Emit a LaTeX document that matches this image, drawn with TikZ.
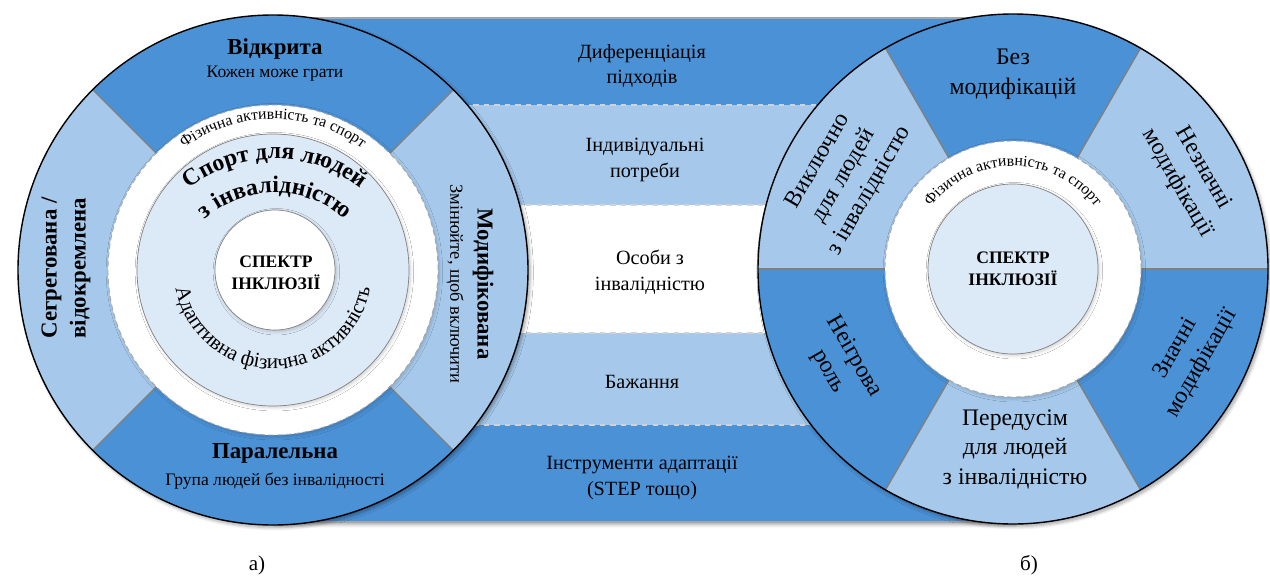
\documentclass[tikz,border=0pt]{standalone}
\usepackage{fontspec}
\setmainfont{Liberation Serif}
\usetikzlibrary{decorations.text,shadows.blur}
\definecolor{darkband}{RGB}{75,145,214}
\definecolor{lightband}{RGB}{166,201,235}
\definecolor{paleblue}{RGB}{220,233,246}

\begin{document}
\begin{tikzpicture}[x=0.02cm, y=0.02cm,
    title/.style ={font=\bfseries\fontsize{13}{16.4}\selectfont, align=center},
    subtitle/.style ={font=\fontsize{10}{12}\selectfont, align=center},
    bandtext/.style ={font=\fontsize{11.5}{14.7}\selectfont, align=center},
    sectortext/.style ={font=\fontsize{13.5}{16.8}\selectfont, align=center},
    core/.style ={font=\bfseries\fontsize{10}{12.5}\selectfont, align=center},
    divider/.style ={draw=gray, line width=0.8pt},
    ringedge/.style ={draw=gray!70, densely dashed, line width=0.5pt},
    softshadow/.style ={blur shadow={shadow xshift=1.2pt, shadow yshift=-1.5pt,
        shadow opacity=35, shadow blur steps=6}},
    faintshadow/.style ={blur shadow={shadow xshift=0.8pt, shadow yshift=-1pt,
        shadow opacity=18, shadow blur steps=5}}]
   \useasboundingbox (0,0) rectangle (1270,576);

   \fill[darkband, softshadow] (273,54) rectangle (1013,558);
   \fill[lightband] (273,151) rectangle (1013,471);
   \fill[white] (273,243) rectangle (1013,371);
   \foreach \y in {151,243,371,471}
      \draw[gray!35, dashed, line width=0.6pt] (273,\y) -- (1013,\y);
   \draw[gray!70, line width=0.8pt] (273,558) -- (1013,558);
   \draw[gray!70, line width=0.8pt] (273,54) -- (1013,54);

   \coordinate (L) at (273,306);
   \coordinate (arch) at (275,276);
   \fill[darkband, softshadow] (L) circle[radius=255];
   \foreach \a in {-45,135}
      \fill[lightband] (L) -- ++(\a:255) arc[start angle=\a, delta angle=90, radius=255] -- cycle;
   \foreach \a in {45,135,225,315}
      \draw[divider] ([shift={(\a:160)}]L) -- ([shift={(\a:255)}]L);
   \draw[black, line width=0.8pt] (L) circle[radius=255];
   \filldraw[fill=white, ringedge, faintshadow] (L) circle[radius=165];
   \filldraw[fill=paleblue, draw=gray, faintshadow] (L) circle[radius=136];
   \filldraw[fill=white, draw=gray, faintshadow] (275,306) circle[radius=60];

   \coordinate (R) at (1013,307);
   \fill[darkband, softshadow] (R) circle[radius=255];
   \foreach \a in {0,120,240}
      \fill[lightband] (R) -- ++(\a:255) arc[start angle=\a, delta angle=60, radius=255] -- cycle;
   \foreach \a in {0,60,...,300}
      \draw[divider] ([shift={(\a:124)}]R) -- ([shift={(\a:255)}]R);
   \draw[black, line width=0.8pt] (R) circle[radius=255];
   \filldraw[fill=white, ringedge, faintshadow] (R) circle[radius=128];
   \filldraw[fill=paleblue, draw=gray, faintshadow] (R) circle[radius=85];

   \node[bandtext] (diff) at (642,510) {Диференціація\\підходів};
   \node[bandtext] (needs) at (645,416) {Індивідуальні\\потреби};
   \node[bandtext] (persons) at (650,304) {Особи з\\інвалідністю};
   \node[bandtext] (wish) at (642,194) {Бажання};
   \node[bandtext] (tools) at (642,98) {Інструменти адаптації\\(STEP тощо)};

   \node[title] (open) at (275,527) {Відкрита};
   \node[subtitle] (openSub) at (275,502) {Кожен може грати};
   \node[title] (parallel) at (275,123) {Паралельна};
   \node[subtitle] (parallelSub) at (275,95) {Група людей без інвалідності};
   \node[title, rotate=90] (segregated) at (66,308) {Сегрегована /\\відокремлена};
   \node[title, rotate=-90] (modified) at (483,292) {Модифікована};
   \node[subtitle, font=\fontsize{10.5}{12}\selectfont, rotate=-90] (modifiedSub) at (455,292)
      {Змінюйте, щоб включити};
   \node[core] (coreL) at (276,303) {СПЕКТР\\ІНКЛЮЗІЇ};

   \path[decorate, decoration={text along path, text align=center,
      text={|\fontsize{9}{11}\selectfont|Фізична активність та спорт}}]
      ([shift={(170:151)}]L) arc[start angle=170, end angle=10, radius=151];
   \path[decorate, decoration={text along path, text align=center,
      text={|\bfseries\fontsize{13.5}{16}\selectfont|Спорт для людей}}]
      ([shift={(160:141)}]arch) arc[start angle=160, end angle=20, radius=141];
   \path[decorate, decoration={text along path, text align=center,
      text={|\bfseries\fontsize{13.5}{16}\selectfont|з інвалідністю}}]
      ([shift={(160:107)}]arch) arc[start angle=160, end angle=20, radius=107];
   \path[decorate, decoration={text along path, text align=center,
      text={|\fontsize{12}{14}\selectfont|Адаптивна фізична активність}}]
      ([shift={(175:99)}]L) arc[start angle=175, end angle=365, radius=99];

   \node[sectortext] (noMod) at (1013,502) {Без\\модифікацій};
   \node[sectortext, rotate=-60] (minorMod) at (1190,400) {Незначні\\модифікації};
   \node[sectortext, rotate=60] (majorMod) at (1189,220) {Значні\\модифікації};
   \node[sectortext] (mainly) at (1015,127) {Передусім\\для людей\\з інвалідністю};
   \node[sectortext, rotate=-60] (nonPlay) at (841,212) {Неігрова\\роль};
   \node[sectortext, rotate=60] (only) at (844,400) {Виключно\\для людей\\з інвалідністю};
   \node[core] (coreR) at (1013,307) {СПЕКТР\\ІНКЛЮЗІЇ};
   \path[decorate, decoration={text along path, text align=center,
      text={|\fontsize{9}{11}\selectfont|Фізична активність та спорт}}]
      ([shift={(170:103)}]R) arc[start angle=170, end angle=10, radius=103];

   \node[font=\fontsize{12}{14}\selectfont] (capA) at (257,11) {а)};
   \node[font=\fontsize{12}{14}\selectfont] (capB) at (1029,11) {б)};
 \end{tikzpicture}
\end{document}
